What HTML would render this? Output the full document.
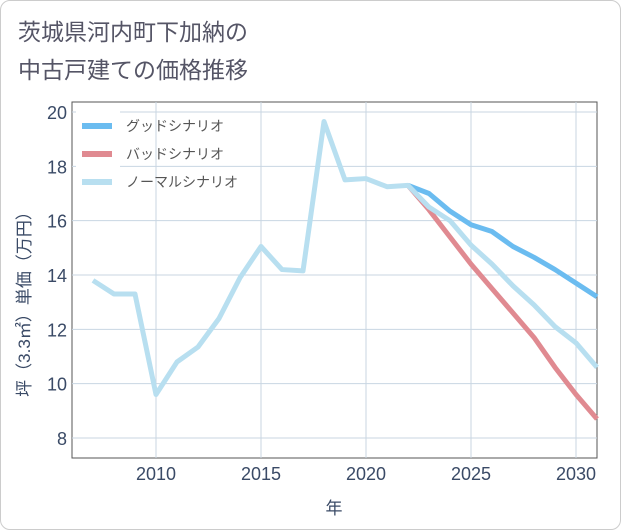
<!DOCTYPE html>
<html><head><meta charset="utf-8"><style>
body{margin:0;background:#fff;font-family:"Liberation Sans","Noto Sans CJK JP",sans-serif;}
#card{position:absolute;left:0;top:0;width:619px;height:528px;border:1px solid #ccc;border-radius:10px;background:#fff;}
</style></head><body>
<div id="card">
<svg id="chart" width="621" height="530" style="position:absolute;left:-1px;top:-1px">
<text x="18" y="40" font-size="23" fill="#556">茨城県河内町下加納の</text>
<text x="18" y="78" font-size="23" fill="#556">中古戸建ての価格推移</text>
<g id="plot"></g>
</svg>
</div>
<script>
const years=[2007,2008,2009,2010,2011,2012,2013,2014,2015,2016,2017,2018,2019,2020,2021,2022,2023,2024,2025,2026,2027,2028,2029,2030,2031];
const normal=[13.8,13.3,13.3,9.6,10.8,11.35,12.4,13.9,15.05,14.2,14.15,19.65,17.5,17.55,17.25,17.3,16.5,16.0,15.1,14.4,13.6,12.9,12.1,11.5,10.6];
const goodYears=[2022,2023,2024,2025,2026,2027,2028,2029,2030,2031];
const good=[17.3,17.0,16.35,15.85,15.6,15.05,14.65,14.2,13.7,13.2];
const bad=[17.3,16.4,15.4,14.4,13.5,12.6,11.7,10.6,9.6,8.7];
const xTicks=[2010,2015,2020,2025,2030];
const yTicks=[8,10,12,14,16,18,20];
const L=72,R=597,T=102,B=458;
const x=v=>156+(v-2010)*21;
const y=v=>438-(v-8)*(326/12);
const NS='http://www.w3.org/2000/svg';
const g=document.getElementById('plot');
function mk(t,a){const e=document.createElementNS(NS,t);for(const k in a)e.setAttribute(k,a[k]);g.appendChild(e);return e;}
let bg=mk('rect',{x:L,y:T,width:R-L,height:B-T,fill:'#fff',stroke:'#555','stroke-width':1});


xTicks.forEach(v=>{let l=mk('line',{x1:x(v),x2:x(v),y1:T,y2:B,stroke:'#c8d6e2'});


let t=mk('text',{x:x(v),y:480,'text-anchor':'middle','font-size':18,fill:'#3a4a66'});t.textContent=v;

});
yTicks.forEach(v=>{let l=mk('line',{x1:L,x2:R,y1:y(v),y2:y(v),stroke:'#c8d6e2'});


let t=mk('text',{x:67,y:y(v)+7,'text-anchor':'end','font-size':18,fill:'#3a4a66'});t.textContent=v;

});
let xt=mk('text',{x:334,y:514,'text-anchor':'middle','font-size':17,fill:'#3a4a66'});xt.textContent='年';


let yt=mk('text',{x:0,y:0,'text-anchor':'middle','font-size':17,fill:'#3a4a66',transform:'translate(30,300) rotate(-90)'});yt.textContent='坪（3.3㎡）単価（万円）';


let lg=mk('rect',{x:76,y:106,width:44,height:92,fill:'#fff'});


function line(xs,vs,c,n){let p=mk('polyline',{points:xs.map((v,i)=>x(v)+','+y(vs[i])).join(' '),fill:'none',stroke:c,'stroke-width':5,'stroke-linejoin':'round'});

}
line(goodYears,bad,'#e08a91','bad-scenario-line');
line(goodYears,good,'#6bbcf0','good-scenario-line');
line(years,normal,'#b8dff0','normal-scenario-line');
[['グッドシナリオ','#6bbcf0'],['バッドシナリオ','#e08a91'],['ノーマルシナリオ','#b8dff0']].forEach((d,i)=>{
let yy=126+i*28;
let l=mk('line',{x1:82,x2:112,y1:yy,y2:yy,stroke:d[1],'stroke-width':6});


let t=mk('text',{x:126,y:yy+5,'font-size':14,fill:'#555'});t.textContent=d[0];

});
</script>
</body></html>
